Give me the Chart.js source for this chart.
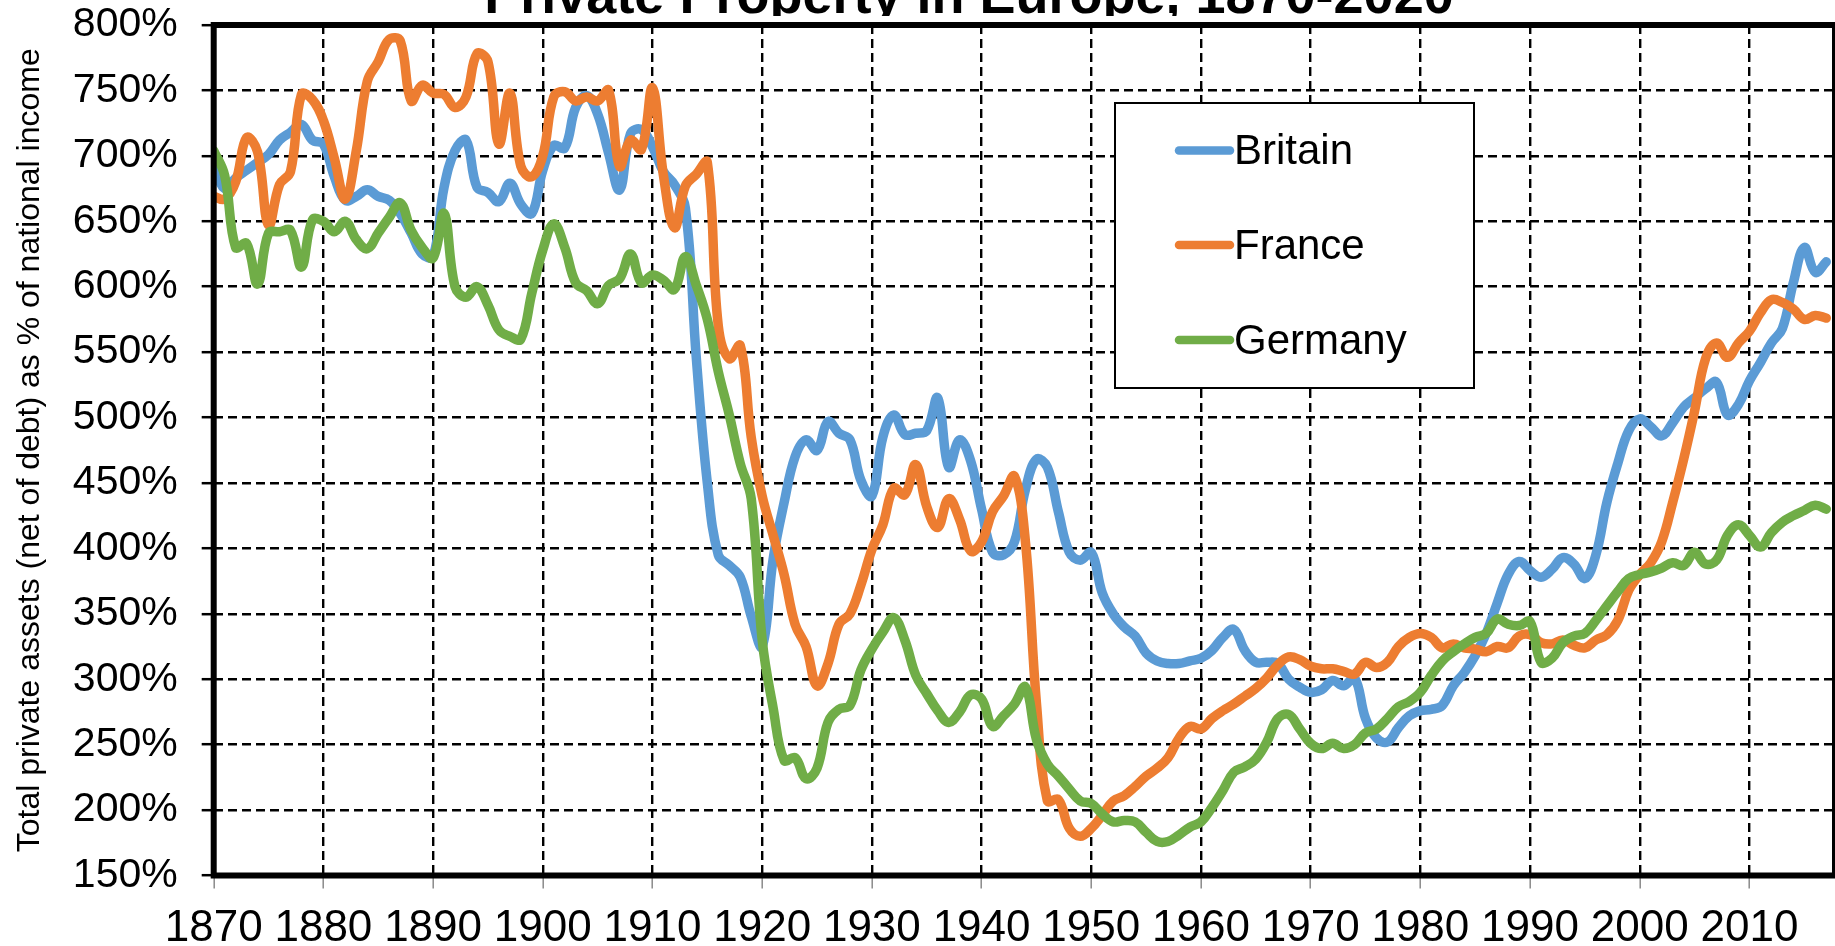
<!DOCTYPE html>
<html>
<head>
<meta charset="utf-8">
<script src="https://cdn.jsdelivr.net/npm/chart.js@4.4.0/dist/chart.umd.min.js"></script>
<style>
html,body{margin:0;padding:0;background:#fff;}
#wrap{width:1835px;height:946px;position:relative;}
</style>
</head>
<body>
<div id="wrap"><canvas id="c"></canvas></div>
<script>
const titleText = 'Private Property in Europe, 1870-2020';
const yAxisTitle = 'Total private assets (net of debt) as % of national income';
const seriesNames = ['Britain', 'France', 'Germany'];
const seriesColors = ['#5B9BD5', '#ED7D31', '#70AD47'];

const years = [
  1870,1871,1872,1873,1874,1875,1876,1877,1878,1879,
  1880,1881,1882,1883,1884,1885,1886,1887,1888,1889,
  1890,1891,1892,1893,1894,1895,1896,1897,1898,1899,
  1900,1901,1902,1903,1904,1905,1906,1907,1908,1909,
  1910,1911,1912,1913,1914,1915,1916,1917,1918,1919,
  1920,1921,1922,1923,1924,1925,1926,1927,1928,1929,
  1930,1931,1932,1933,1934,1935,1936,1937,1938,1939,
  1940,1941,1942,1943,1944,1945,1946,1947,1948,1949,
  1950,1951,1952,1953,1954,1955,1956,1957,1958,1959,
  1960,1961,1962,1963,1964,1965,1966,1967,1968,1969,
  1970,1971,1972,1973,1974,1975,1976,1977,1978,1979,
  1980,1981,1982,1983,1984,1985,1986,1987,1988,1989,
  1990,1991,1992,1993,1994,1995,1996,1997,1998,1999,
  2000,2001,2002,2003,2004,2005,2006,2007,2008,2009,
  2010,2011,2012,2013,2014,2015,2016,2017
];

const britain = [
  694,675,683,689,695,701,712,718,724,712,
  709,684,666,669,674,669,666,656,641,625,
  623,676,704,712,676,672,665,679,663,656,
  689,708,706,737,746,732,702,674,717,720,
  707,688,678,660,545,450,395,387,378,348,
  325,392,435,470,483,475,497,488,483,452,
  440,485,502,487,488,490,515,462,483,467,
  430,397,395,405,445,468,462,428,397,391,
  397,366,350,340,333,320,314,312,312,314,
  316,322,332,338,322,313,313,312,300,294,
  290,292,299,295,301,270,255,252,263,272,
  276,277,280,295,305,318,335,358,380,390,
  383,378,384,393,388,377,395,435,465,490,
  499,493,486,496,508,515,522,527,502,510,
  528,542,557,568,603,630,611,619
];

const france = [
  669,667,680,714,703,647,678,688,747,743,
  727,698,667,704,757,772,789,788,742,754,
  748,747,737,745,778,772,709,748,692,684,
  700,745,749,742,745,742,750,692,712,705,
  752,685,645,677,686,695,570,545,555,485,
  440,410,380,342,325,295,312,342,350,372,
  399,418,446,441,464,432,416,438,422,398,
  405,428,440,455,405,282,207,208,186,180,
  186,196,207,211,218,226,232,240,255,264,
  262,270,276,281,287,293,301,311,317,315,
  310,308,308,306,304,313,309,313,325,332,
  335,332,324,327,324,323,321,325,324,333,
  334,328,327,330,326,324,330,334,345,368,
  380,389,405,435,468,505,545,557,546,557,
  566,580,590,588,583,575,578,576
];

const germany = [
  704,685,630,633,602,641,642,643,615,651,
  650,642,650,636,629,641,653,664,643,630,
  622,656,600,592,600,586,567,562,560,595,
  628,648,630,603,597,587,601,606,625,603,
  609,605,598,623,601,575,535,502,465,438,
  330,278,238,240,224,232,267,277,280,307,
  323,336,347,330,303,289,276,267,275,288,
  285,264,272,281,294,254,235,226,216,207,
  205,197,191,192,191,183,176,176,181,187,
  191,202,215,229,233,239,252,270,273,262,
  251,247,251,247,250,259,262,270,279,283,
  290,303,314,321,327,332,335,346,342,341,
  344,313,316,328,333,335,345,356,367,377,
  380,382,385,389,387,397,388,391,410,418,
  410,401,412,420,425,429,433,430
];

const xTickYears = [1870,1880,1890,1900,1910,1920,1930,1940,1950,1960,1970,1980,1990,2000,2010];
const yTickValues = [150,200,250,300,350,400,450,500,550,600,650,700,750,800];

const FONT = '"Liberation Sans", Arial, Helvetica, sans-serif';
const seriesValues = [britain, france, germany];

const datasets = seriesNames.map((name, k) => ({
  label: name,
  data: years.map((yr, i) => ({x: yr, y: seriesValues[k][i]})),
  borderColor: seriesColors[k],
  backgroundColor: seriesColors[k],
  borderWidth: 9.5,
  pointRadius: 0,
  pointHoverRadius: 0,
  tension: 0.4,
  fill: false,
  borderCapStyle: 'round',
  borderJoinStyle: 'round',
  order: 2 - k
}));

const decorPlugin = {
  id: 'decor',
  afterDraw(chart) {
    const ctx = chart.ctx;
    const a = chart.chartArea;
    // plot frame
    ctx.save();
    ctx.strokeStyle = '#000';
    ctx.lineWidth = 6;
    ctx.setLineDash([]);
    ctx.strokeRect(a.left, a.top, a.right - a.left, a.bottom - a.top);
    ctx.restore();

    // title (cropped at top as in the reference)
    ctx.save();
    ctx.beginPath();
    ctx.rect(0, 0, chart.width, 16);
    ctx.clip();
    ctx.font = 'bold 54px ' + FONT;
    ctx.fillStyle = '#000';
    ctx.textAlign = 'center';
    ctx.textBaseline = 'alphabetic';
    ctx.fillText(titleText, 969, 13);
    ctx.restore();

    // legend
    ctx.save();
    const bx = 1115, by = 103, bw = 359, bh = 285;
    ctx.fillStyle = '#fff';
    ctx.fillRect(bx, by, bw, bh);
    ctx.strokeStyle = '#000';
    ctx.lineWidth = 2;
    ctx.strokeRect(bx, by, bw, bh);
    const rows = [150.5, 245, 340];
    const bases = [163.5, 258.5, 353.5];
    ctx.font = '42px ' + FONT;
    ctx.textAlign = 'left';
    ctx.textBaseline = 'alphabetic';
    seriesNames.forEach((name, k) => {
      ctx.strokeStyle = seriesColors[k];
      ctx.lineWidth = 8.5;
      ctx.lineCap = 'round';
      ctx.beginPath();
      ctx.moveTo(1179, rows[k]);
      ctx.lineTo(1230, rows[k]);
      ctx.stroke();
      ctx.fillStyle = '#000';
      ctx.fillText(name, 1234, bases[k]);
    });
    ctx.restore();
  }
};

new Chart(document.getElementById('c'), {
  type: 'line',
  data: { datasets },
  options: {
    responsive: true,
    maintainAspectRatio: false,
    animation: false,
    devicePixelRatio: 1,
    layout: { padding: { top: 25, left: 0, right: 0, bottom: 0 } },
    plugins: {
      legend: { display: false },
      title: { display: false },
      tooltip: { enabled: false }
    },
    scales: {
      x: {
        type: 'linear',
        min: 1870,
        max: 2017.8,
        afterBuildTicks: s => { s.ticks = xTickYears.map(v => ({value: v})); },
        afterFit: s => { s.height = 70.5; s.paddingRight = 0; },
        ticks: {
          font: { family: FONT, size: 44 },
          color: '#000',
          padding: 14,
          maxRotation: 0,
          autoSkip: false,
          callback: v => String(v)
        },
        grid: {
          color: '#000',
          lineWidth: 2.4,
          drawTicks: true,
          tickLength: 13,
          tickColor: '#8a8a8a',
          tickWidth: 1.5,
          tickBorderDash: []
        },
        border: { display: false, dash: [9, 5] }
      },
      y: {
        type: 'linear',
        min: 150,
        max: 800,
        afterBuildTicks: s => { s.ticks = yTickValues.map(v => ({value: v})); },
        afterFit: s => { s.width = 213.7; s.paddingTop = 0; s.paddingBottom = 0; },
        ticks: {
          font: { family: FONT, size: 41 },
          color: '#000',
          padding: 24,
          callback: v => v + '%'
        },
        grid: {
          color: '#000',
          lineWidth: 2.4,
          drawTicks: true,
          tickLength: 12,
          tickColor: '#000',
          tickWidth: 2.5,
          tickBorderDash: []
        },
        border: { display: false, dash: [9, 5] },
        title: {
          display: true,
          text: yAxisTitle,
          color: '#000',
          font: { family: FONT, size: 32 },
          padding: { top: 11, bottom: 0 }
        }
      }
    }
  },
  plugins: [decorPlugin]
});
</script>
</body>
</html>
